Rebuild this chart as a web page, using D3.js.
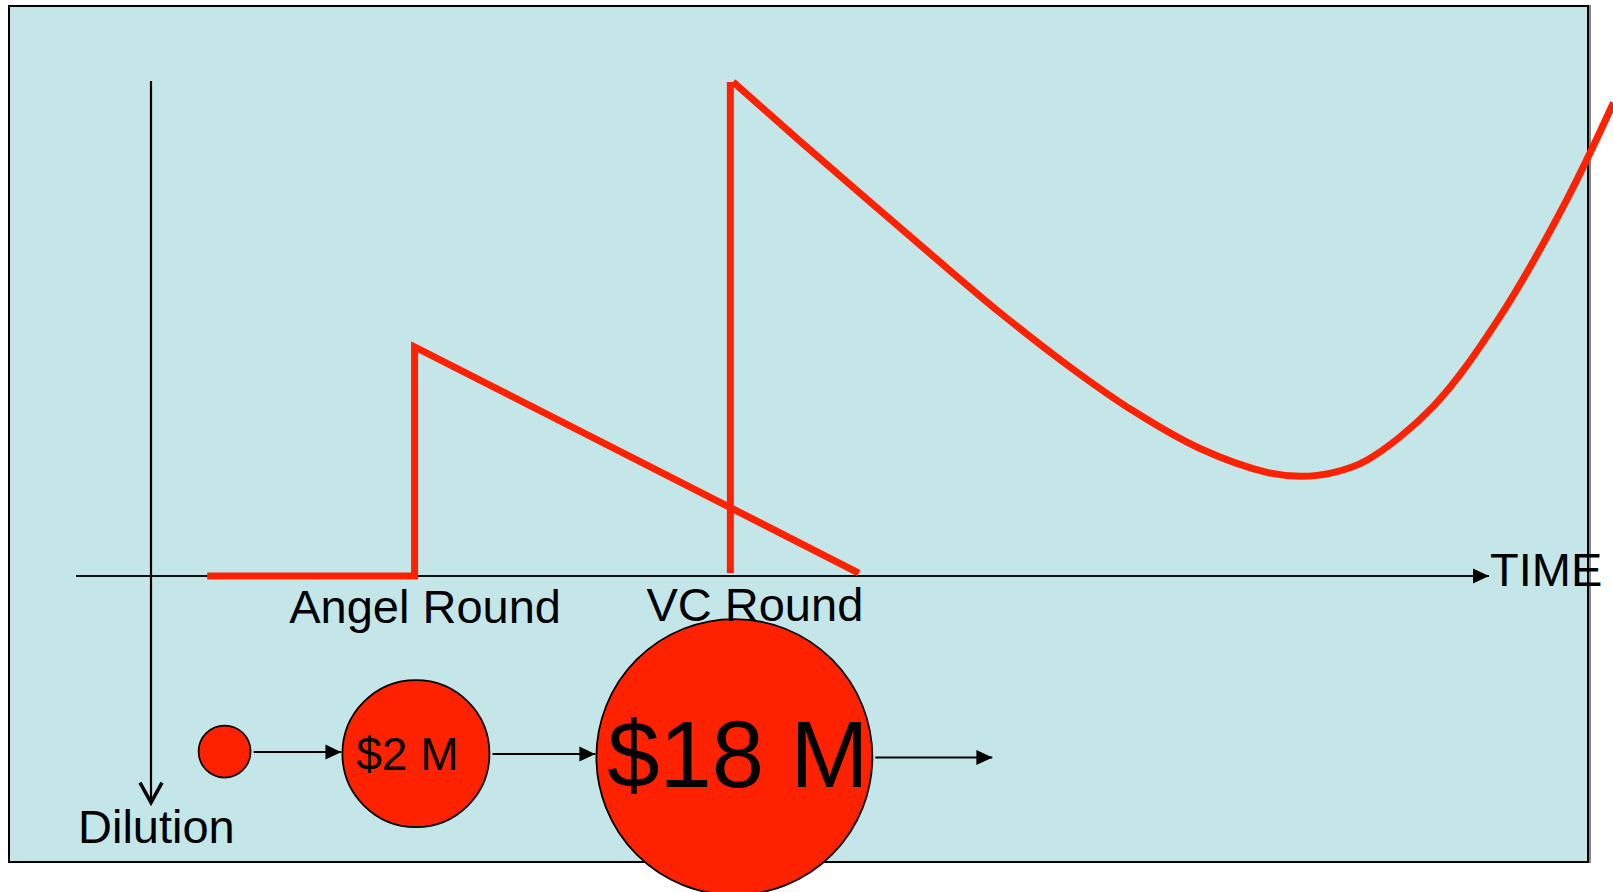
<!DOCTYPE html>
<html>
<head>
<meta charset="utf-8">
<script src="https://cdn.jsdelivr.net/npm/d3@7"></script>
<style>
  html, body { margin: 0; padding: 0; background: #fff; }
  svg { display: block; font-family: "Liberation Sans", Arial, sans-serif; }
</style>
</head>
<body>
<svg id="chart" width="1613" height="892"></svg>
<script>
// value of the company over time (time units 0-100, value units 0-100)
var angelSeries = [[4.2, 0], [19.7, 0], [19.7, 46.2], [52.9, 0.6]];
var vcRise = [[43.3, 0.6], [43.3, 99.6]];
var vcCurve = [
	[43.5, 99.6], [48.5, 87.7], [53.5, 76.0], [58.45, 64.5], [63.45, 53.1],
	[68.45, 42.6], [73.4, 33.3], [78.4, 25.7], [83.4, 20.9], [85.9, 20.1],
	[88.35, 20.85], [90.9, 23.4], [95.8, 34.1], [100.8, 52.2], [105.8, 75.8],
	[109.3, 95.4]
];

// funding rounds
var rounds = ["Angel Round", "VC Round"];
var roundTimes = [19.7, 43.3];

// dilution bubbles
var bubbleTimes = [5.5, 19.8, 43.6];
var bubbleDilution = [-35.4, -35.8, -36.5];
var bubbleSizes = [5.24, 14.82, 27.82];
var bubbleLabels = ["", "$2 M", "$18 M"];

var axisTitles = ["TIME", "Dilution"];

var red = "#ff2200";
var svg = d3.select("#chart");

var x = d3.scaleLinear().domain([0, 100]).range([151, 1489]);
var y = d3.scaleLinear().domain([0, 100]).range([576, 80]);
var rad = function(v){ return y(0) - y(v); };

var defs = svg.append("defs");
defs.append("marker")
	.attr("id", "tri")
	.attr("markerUnits", "userSpaceOnUse")
	.attr("viewBox", "0 -8 16 16")
	.attr("refX", 16).attr("refY", 0)
	.attr("markerWidth", 16).attr("markerHeight", 16)
	.attr("orient", "auto")
	.append("path").attr("d", "M0,-7.5L16,0L0,7.5Z").attr("fill", "#000");
defs.append("marker")
	.attr("id", "chev")
	.attr("markerUnits", "userSpaceOnUse")
	.attr("viewBox", "-2 -14 26 28")
	.attr("refX", 20).attr("refY", 0)
	.attr("markerWidth", 26).attr("markerHeight", 28)
	.attr("orient", "auto")
	.append("path").attr("d", "M0,-11L20,0L0,11")
	.attr("fill", "none").attr("stroke", "#000").attr("stroke-width", 3.5);

// slide frame
svg.append("rect")
	.attr("x", 10).attr("y", 6).attr("width", 1580).attr("height", 856)
	.attr("fill", "none").attr("stroke", "#888").attr("stroke-width", 2);
svg.append("rect")
	.attr("x", 9).attr("y", 6).attr("width", 1579).attr("height", 856)
	.attr("fill", "#c4e6e8").attr("stroke", "#000").attr("stroke-width", 2);

// axes
svg.append("line")
	.attr("x1", x(-5.6)).attr("x2", x(100)).attr("y1", y(0)).attr("y2", y(0))
	.attr("stroke", "#111").attr("stroke-width", 2)
	.attr("marker-end", "url(#tri)");
svg.append("line")
	.attr("x1", x(0)).attr("x2", x(0)).attr("y1", y(99.8)).attr("y2", y(-45.7))
	.attr("stroke", "#000").attr("stroke-width", 2.2)
	.attr("marker-end", "url(#chev)");

// value lines
var line = d3.line().x(function(d){ return x(d[0]); }).y(function(d){ return y(d[1]); });
var redLines = svg.append("g")
	.attr("fill", "none").attr("stroke", red).attr("stroke-width", 7);
redLines.append("path").attr("d", line(angelSeries)).attr("stroke-linejoin", "miter");
redLines.append("path").attr("d", line(vcRise));
redLines.append("path").attr("d", line.curve(d3.curveCatmullRom.alpha(0.5))(vcCurve));

// bubbles
var bubbles = bubbleTimes.map(function(t, i){
	return { cx: x(t), cy: y(bubbleDilution[i]), r: rad(bubbleSizes[i]), label: bubbleLabels[i] };
});

var arrows = svg.append("g").attr("stroke", "#000").attr("stroke-width", 2);
bubbles.forEach(function(b, i){
	var next = bubbles[i + 1];
	var x1 = b.cx + b.r + 3;
	var x2 = next ? next.cx - next.r - 1 : x1 + 117;
	arrows.append("line")
		.attr("x1", x1).attr("x2", x2)
		.attr("y1", b.cy + 0.5).attr("y2", b.cy + 0.5)
		.attr("marker-end", "url(#tri)");
});

svg.append("g").selectAll("circle")
	.data(bubbles)
	.enter().append("circle")
	.attr("cx", function(d){ return d.cx; })
	.attr("cy", function(d){ return d.cy; })
	.attr("r", function(d){ return d.r; })
	.attr("fill", red).attr("stroke", "#000").attr("stroke-width", 1.8);

var bubbleFont = [0, 46, 94];
var bubbleDx = [0, -8.5, 3.5];
var bubbleDy = [0, 16.5, 30];
svg.append("g").selectAll("text")
	.data(bubbles)
	.enter().append("text")
	.attr("x", function(d, i){ return d.cx + bubbleDx[i]; })
	.attr("y", function(d, i){ return d.cy + bubbleDy[i]; })
	.attr("text-anchor", "middle")
	.attr("font-size", function(d, i){ return bubbleFont[i]; })
	.attr("fill", "#000")
	.text(function(d){ return d.label; });

// round labels
var roundDx = [10.5, 24.5];
svg.append("g").selectAll("text")
	.data(rounds)
	.enter().append("text")
	.attr("x", function(d, i){ return x(roundTimes[i]) + roundDx[i]; })
	.attr("y", function(d, i){ return i === 0 ? 623 : 621; })
	.attr("text-anchor", "middle")
	.attr("font-size", 47)
	.attr("fill", "#000")
	.text(function(d){ return d; });

// axis titles
svg.append("text")
	.attr("x", x(100) + 1).attr("y", y(0) + 10)
	.attr("font-size", 47).attr("fill", "#000")
	.text(axisTitles[0]);
svg.append("text")
	.attr("x", 78).attr("y", 843)
	.attr("font-size", 47).attr("fill", "#000")
	.text(axisTitles[1]);
</script>
</body>
</html>
